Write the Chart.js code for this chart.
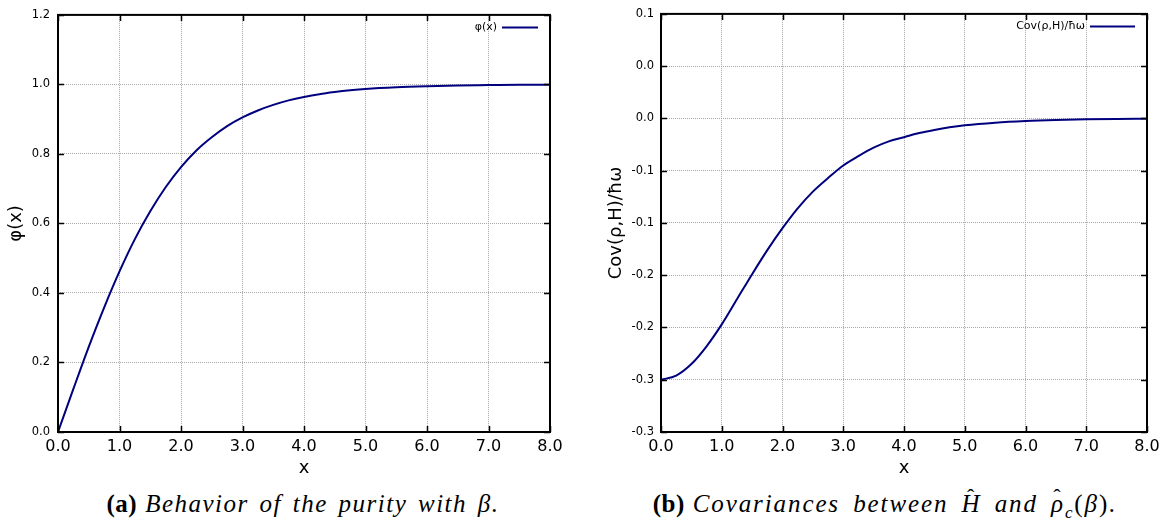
<!DOCTYPE html>
<html>
<head>
<meta charset="utf-8">
<script src="https://cdn.jsdelivr.net/npm/chart.js@4"></script>
<style>
  body { margin: 0; background: #fff; }
  #wrap { position: relative; width: 1165px; height: 529px; overflow: hidden; }
  .plot { position: absolute; top: 0; }
  .caption {
    position: absolute; top: 490px; width: 640px; text-align: center;
    font-family: "Liberation Serif", serif; font-size: 25px; color: #000; white-space: nowrap;
    letter-spacing: 1.5px; word-spacing: 3px;
  }
  .caption b { font-weight: bold; margin-right: 8px; letter-spacing: 0.5px; }
  .caption sub { font-size: 17px; }
  .hat { position: relative; display: inline-block; }
  .hat span { position: absolute; left: 0; right: 0; top: -6px; text-align: center; font-style: normal; font-size: 22px; }
</style>
</head>
<body>
<div id="wrap">
  <canvas id="purityChart" class="plot" width="582" height="480" style="left:0"></canvas>
  <canvas id="covChart" class="plot" width="583" height="480" style="left:582px"></canvas>
  <div class="caption" style="left:-17px"><b>(a)</b><i>Behavior of the purity with β.</i></div>
  <div class="caption" style="left:565px; letter-spacing:1.9px; word-spacing:5px"><b>(b)</b><i>Covariances between <span class="hat">H<span>ˆ</span></span> and <span class="hat">ρ<span>ˆ</span></span><sub>c</sub></i>(<i>β</i>)<i>.</i></div>
</div>
<script>
// values
const xValues = [0, 0.25, 0.5, 0.75, 1, 1.25, 1.5, 1.75, 2, 2.25, 2.5, 2.75, 3, 3.25, 3.5, 3.75,
  4, 4.25, 4.5, 4.75, 5, 5.5, 6, 6.5, 7, 7.5, 8];
const purityValues = [0, 0.124, 0.245, 0.358, 0.462, 0.555, 0.635, 0.704, 0.762, 0.810, 0.848, 0.880,
  0.905, 0.925, 0.941, 0.954, 0.964, 0.972, 0.978, 0.983, 0.987, 0.992, 0.995, 0.997, 0.998, 0.999, 0.999];
const covValues = [-0.250, -0.246, -0.235, -0.218, -0.197, -0.173, -0.149, -0.126, -0.105, -0.086, -0.070,
  -0.057, -0.045, -0.036, -0.028, -0.022, -0.018, -0.014, -0.011, -0.0085, -0.0066, -0.0041, -0.0025,
  -0.0015, -0.0009, -0.0005, -0.0003];
// tick labels exactly as printed on the right panel (bottom to top)
const covTickLabels = ['-0.3', '-0.3', '-0.2', '-0.2', '-0.1', '-0.1', '0.0', '0.0', '0.1'];

const lineColor = '#00007f';

const toPoints = (ys) => xValues.map((x, i) => ({ x: x, y: ys[i] }));

// black frame with inward tick marks, and the legend in the top right corner
const framePlugin = {
  id: 'frame',
  afterDraw(chart, args, opts) {
    const { ctx, chartArea: a, scales } = chart;
    ctx.save();
    ctx.strokeStyle = '#000';
    ctx.lineWidth = 1.5;
    ctx.beginPath();
    scales.x.ticks.forEach((t) => {
      const px = Math.round(scales.x.getPixelForValue(t.value)) + 0.5;
      ctx.moveTo(px, a.bottom); ctx.lineTo(px, a.bottom - 6);
      ctx.moveTo(px, a.top); ctx.lineTo(px, a.top + 6);
    });
    scales.y.ticks.forEach((t) => {
      const py = Math.round(scales.y.getPixelForValue(t.value)) + 0.5;
      ctx.moveTo(a.left, py); ctx.lineTo(a.left + 6, py);
      ctx.moveTo(a.right, py); ctx.lineTo(a.right - 6, py);
    });
    ctx.stroke();
    ctx.lineWidth = 2;
    ctx.strokeRect(a.left, a.top, a.right - a.left, a.bottom - a.top);

    const ds = chart.data.datasets[0];
    const ly = a.top + 12;
    ctx.font = '11px "DejaVu Sans"';
    ctx.fillStyle = '#000';
    ctx.textAlign = 'right';
    ctx.textBaseline = 'middle';
    ctx.fillText(ds.label, a.right - opts.sample - 17, ly);
    ctx.strokeStyle = ds.borderColor;
    ctx.lineWidth = 2;
    ctx.beginPath();
    ctx.moveTo(a.right - opts.sample - 12, ly + 0.5);
    ctx.lineTo(a.right - 12, ly + 0.5);
    ctx.stroke();
    ctx.restore();
  }
};

function makeChart(id, label, ys, yOpts, layout) {
  return new Chart(document.getElementById(id), {
    type: 'line',
    data: {
      datasets: [{
        label: label,
        data: toPoints(ys),
        borderColor: lineColor,
        borderWidth: 2,
        pointRadius: 0,
        cubicInterpolationMode: 'monotone',
        fill: false
      }]
    },
    options: {
      responsive: false,
      animation: false,
      devicePixelRatio: 1,
      layout: { padding: { left: 0, right: layout.right, top: 13, bottom: 0 } },
      plugins: {
        legend: { display: false },
        tooltip: { enabled: false },
        frame: { sample: layout.sample }
      },
      scales: {
        x: {
          type: 'linear',
          min: 0, max: 8,
          afterFit: (s) => { s.height = 48; },
          ticks: {
            stepSize: 1,
            padding: 5,
            color: '#000',
            font: { family: 'DejaVu Sans', size: 16 },
            maxRotation: 0,
            callback: (v) => v.toFixed(1)
          },
          grid: { color: '#a8a8a8', lineWidth: 1, drawTicks: false },
          border: { display: false, dash: [1, 1] },
          title: {
            display: true, text: 'x', color: '#000',
            font: { family: 'DejaVu Sans', size: 18 },
            padding: { top: 1, bottom: 1 }
          }
        },
        y: Object.assign({
          type: 'linear',
          afterFit: (s) => { s.width = layout.left; },
          grid: { color: '#a8a8a8', lineWidth: 1, drawTicks: false },
          border: { display: false, dash: [1, 1] }
        }, yOpts)
      }
    },
    plugins: [framePlugin]
  });
}

makeChart('purityChart', 'φ(x)', purityValues, {
  min: 0, max: 1.2,
  ticks: {
    stepSize: 0.2, padding: 8, color: '#000',
    font: { family: 'DejaVu Sans', size: 11.5 },
    callback: (v) => v.toFixed(1)
  },
  title: {
    display: true, text: 'φ(x)', color: '#000',
    font: { family: 'DejaVu Sans', size: 18 },
    padding: { top: 6, bottom: 0 }
  }
}, { left: 58, right: 32, sample: 36 });

makeChart('covChart', 'Cov(ρ,H)/ħω', covValues, {
  min: -0.3, max: 0.1,
  ticks: {
    stepSize: 0.05, padding: 7, color: '#000',
    font: { family: 'DejaVu Sans', size: 11.5 },
    callback: (v, i) => covTickLabels[i]
  },
  title: {
    display: true, text: 'Cov(ρ,H)/ħω', color: '#000',
    font: { family: 'DejaVu Sans', size: 18 },
    padding: { top: 24, bottom: 0 }
  }
}, { left: 79, right: 18, sample: 45 });
</script>
</body>
</html>
